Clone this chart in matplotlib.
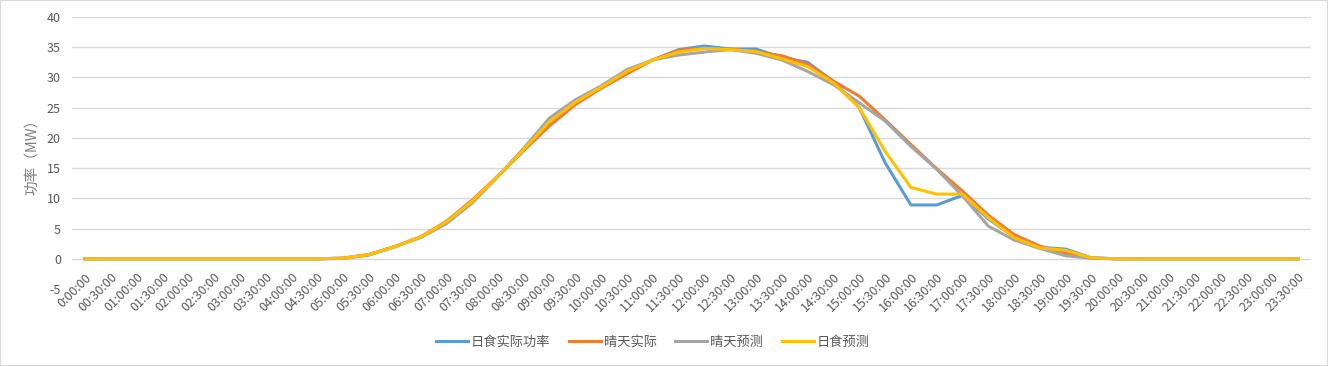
import matplotlib
matplotlib.use("Agg")
import matplotlib.pyplot as plt
from matplotlib.patches import Rectangle

plt.rcParams['font.family'] = ['Noto Sans CJK SC', 'DejaVu Sans']
plt.rcParams['axes.unicode_minus'] = False

times = ["0:00:00"] + [f"{h:02d}:{m:02d}:00" for h in range(24) for m in (0, 30)][1:]

eclipse_actual = [0]*10 + [0.1, 0.7, 2.0, 3.6, 6.1, 9.5, 13.7, 18.1, 22.7, 25.9,
                           28.5, 31.0, 32.9, 34.6, 35.2, 34.7, 34.7, 33.3, 32.5, 29.3,
                           25.0, 15.9, 8.9, 8.9, 10.5, 6.6, 3.6, 1.9, 1.6, 0.15] + [0]*8
clear_actual = [0]*10 + [0.1, 0.7, 2.0, 3.6, 6.2, 9.7, 13.7, 17.9, 22.0, 25.5,
                         28.2, 30.6, 32.9, 34.5, 34.8, 34.7, 34.2, 33.6, 32.2, 29.4,
                         26.9, 23.0, 18.9, 14.9, 11.2, 7.2, 4.0, 2.1, 0.9, 0.1] + [0]*8
clear_forecast = [0]*10 + [0.05, 0.6, 2.0, 3.5, 5.8, 9.2, 13.6, 18.3, 23.3, 26.3,
                           28.6, 31.3, 32.9, 33.7, 34.2, 34.6, 34.0, 32.9, 31.0, 28.8,
                           25.8, 22.8, 18.6, 14.8, 10.4, 5.4, 3.1, 1.7, 0.5, 0.1] + [0]*8
eclipse_forecast = [0]*10 + [0.1, 0.7, 2.0, 3.6, 6.1, 9.5, 13.7, 18.1, 22.7, 25.9,
                             28.4, 31.0, 32.9, 34.2, 34.8, 34.6, 34.3, 33.1, 31.8, 29.1,
                             25.0, 17.8, 11.8, 10.7, 10.7, 6.8, 3.5, 1.8, 1.4, 0.15] + [0]*8

series_names = ["日食实际功率", "晴天实际", "晴天预测", "日食预测"]
series = [eclipse_actual, clear_actual, clear_forecast, eclipse_forecast]
colors = ["#5B9BD5", "#ED7D31", "#A5A5A5", "#FFC000"]

fig = plt.figure(figsize=(13.28, 3.66), dpi=100)
fig.patches.append(Rectangle((0, 0), 1, 1, transform=fig.transFigure,
                             fill=False, edgecolor="#d9d9d9", linewidth=1.5))
ax = fig.add_axes([72/1328, 1-289/366, (1311-72)/1328, (289-17)/366])

x = list(range(len(times)))
for name, vals, c in zip(series_names, series, colors):
    ax.plot(x, vals, color=c, linewidth=2.2, label=name, solid_joinstyle='round')

ax.set_xlim(-0.5, len(times)-0.5)
ax.set_ylim(-5, 40)
ax.set_yticks(range(-5, 41, 5))
ax.set_xticks(x)
ax.set_xticklabels(times, rotation=45, ha='right', rotation_mode='anchor')
ax.tick_params(axis='both', length=0, colors="#595959", labelsize=9)
ax.tick_params(axis='x', pad=-13)
ax.tick_params(axis='y', pad=8)
ax.grid(axis='y', color="#d9d9d9", linewidth=1)
ax.set_axisbelow(True)
for s in ax.spines.values():
    s.set_visible(False)
ax.set_ylabel("功率（MW）", color="#7f7f7f", fontsize=10.5, labelpad=6)

fig.legend(loc='center', bbox_to_anchor=(653/1328, 1-342/366), ncol=4, frameon=False,
           fontsize=9.5, labelcolor="#595959", handlelength=2.4, handletextpad=0.25,
           columnspacing=1.4)

fig.savefig("out.png", dpi=100)
